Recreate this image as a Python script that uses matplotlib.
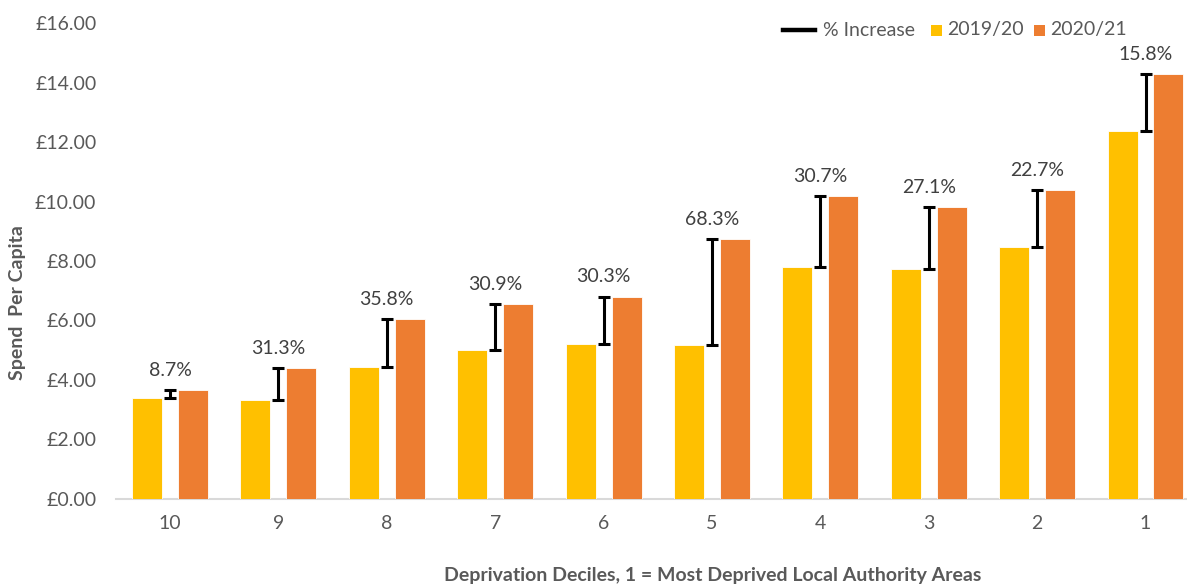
import matplotlib
matplotlib.use("Agg")
import matplotlib.pyplot as plt
from matplotlib.lines import Line2D
from matplotlib.patches import Rectangle
import numpy as np

# Spend per capita by deprivation decile
deciles = ["10", "9", "8", "7", "6", "5", "4", "3", "2", "1"]
spend_2019 = [3.37, 3.32, 4.43, 5.00, 5.21, 5.18, 7.80, 7.74, 8.47, 12.36]
spend_2020 = [3.65, 4.38, 6.03, 6.54, 6.80, 8.74, 10.19, 9.82, 10.39, 14.30]
pct_labels = ["8.7%", "31.3%", "35.8%", "30.9%", "30.3%", "68.3%",
              "30.7%", "27.1%", "22.7%", "15.8%"]
y_ticks = [0, 2, 4, 6, 8, 10, 12, 14, 16]
legend_labels = ["% Increase", "2019/20", "2020/21"]

YELLOW = "#FFC000"
ORANGE = "#ED7D31"
GREY = "#595959"

plt.rcParams["font.family"] = ["Lato", "DejaVu Sans"]

W, H = 1187, 584
fig = plt.figure(figsize=(W / 100, H / 100), dpi=100)
left_px, right_px = 115.8, 1199.7
bottom_px, top_px = 498.5, 23.3
ax = fig.add_axes([left_px / W, 1 - bottom_px / H,
                   (right_px - left_px) / W, (bottom_px - top_px) / H])

x = np.arange(len(deciles))
bw = 0.277
off = 0.212
ax.bar(x - off, spend_2019, width=bw, color=YELLOW, edgecolor="white",
       linewidth=0.6, zorder=2)
ax.bar(x + off, spend_2020, width=bw, color=ORANGE, edgecolor="white",
       linewidth=0.6, zorder=2)

# % increase shown as a bracket from the 2019/20 to the 2020/21 value
lo = np.array(spend_2019)
hi = np.array(spend_2020)
ax.errorbar(x, (lo + hi) / 2, yerr=(hi - lo) / 2, fmt="none", ecolor="black",
            elinewidth=2.2, capsize=4, capthick=2.2, zorder=3)

for xi, top, lab in zip(x, hi, pct_labels):
    ax.annotate(lab, (xi, top), xytext=(0, 8), textcoords="offset points",
                ha="center", va="bottom", fontsize=14, color="#404040")

ax.set_xlim(-0.5, len(deciles) - 0.5)
ax.set_ylim(0, 16)
ax.set_yticks(y_ticks)
ax.set_yticklabels([f"£{v:.2f}" for v in y_ticks])
ax.set_xticks(x)
ax.set_xticklabels(deciles)
ax.tick_params(axis="both", length=0, labelsize=14, colors=GREY)
ax.tick_params(axis="y", pad=14)
ax.tick_params(axis="x", pad=12)
for side in ["top", "right", "left"]:
    ax.spines[side].set_visible(False)
ax.spines["bottom"].set_color("#D9D9D9")
ax.spines["bottom"].set_linewidth(1.5)
ax.spines["bottom"].set_zorder(1)

fig.text(18 / W, 1 - 303 / H, "Spend  Per Capita", rotation=90, ha="center",
         va="center", fontsize=14, fontweight="bold", color=GREY)
fig.text(713 / W, 1 - 575 / H,
         "Deprivation Deciles, 1 = Most Deprived Local Authority Areas",
         ha="center", va="center", fontsize=14, fontweight="bold", color=GREY)

# Legend row along the top right
ly = 1 - 30 / H
fig.add_artist(Line2D([783 / W, 815 / W], [ly, ly], color="black", lw=3.2,
                      transform=fig.transFigure))
fig.text(823 / W, ly, legend_labels[0], ha="left", va="center",
         fontsize=14, color=GREY)
for x0, col, lab in [(931, YELLOW, legend_labels[1]),
                     (1034, ORANGE, legend_labels[2])]:
    fig.add_artist(Rectangle((x0 / W, 1 - 36 / H), 11 / W, 11 / H,
                             facecolor=col, edgecolor="none",
                             transform=fig.transFigure))
    fig.text((x0 + 16) / W, ly, lab, ha="left", va="center",
             fontsize=14, color=GREY)

fig.savefig("out.png", dpi=100)
